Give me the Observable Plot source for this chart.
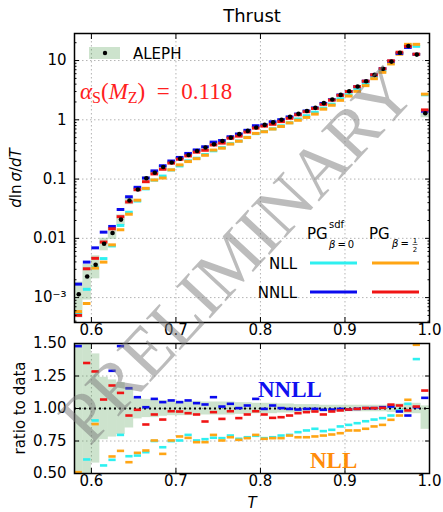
<!DOCTYPE html>
<html>
<head>
<meta charset="utf-8">
<script src="https://cdn.jsdelivr.net/npm/d3@7"></script>
<script src="https://cdn.jsdelivr.net/npm/@observablehq/plot@0.6"></script>
<style>
  html, body { margin: 0; padding: 0; background: #fff; }
  #chart { position: relative; width: 443px; height: 512px; font-family: "DejaVu Sans", sans-serif; }
  #chart svg { position: absolute; left: 0; top: 0; }
</style>
</head>
<body>
<div id="chart"></div>
<script>
// Thrust bins (lower edges), width 0.01
const binLow = [0.58, 0.59, 0.60, 0.61, 0.62, 0.63, 0.64, 0.65, 0.66, 0.67,
                0.68, 0.69, 0.70, 0.71, 0.72, 0.73, 0.74, 0.75, 0.76, 0.77,
                0.78, 0.79, 0.80, 0.81, 0.82, 0.83, 0.84, 0.85, 0.86, 0.87,
                0.88, 0.89, 0.90, 0.91, 0.92, 0.93, 0.94, 0.95, 0.96, 0.97,
                0.98, 0.99];
const binWidth = 0.01;

// ALEPH measurement, 1/sigma dsigma/dT
const aleph = [0.00114, 0.00227, 0.00358, 0.0081, 0.0123, 0.0207, 0.0435, 0.0668, 0.103, 0.128,
               0.160, 0.190, 0.221, 0.255, 0.298, 0.340, 0.387, 0.440, 0.500, 0.573,
               0.650, 0.740, 0.820, 0.905, 1.00, 1.12, 1.26, 1.41, 1.59, 1.91,
               2.20, 2.63, 3.03, 3.64, 4.47, 5.73, 7.24, 9.6, 13.5, 17.6,
               12.6, 1.29];
// relative uncertainty of the measurement (down / up)
const alephErrDown = [0.60, 0.60, 0.42, 0.24, 0.22, 0.20, 0.15, 0.08, 0.07, 0.07,
                      0.06, 0.055, 0.055, 0.055, 0.055, 0.05, 0.05, 0.05, 0.05, 0.045,
                      0.045, 0.04, 0.04, 0.04, 0.035, 0.035, 0.03, 0.03, 0.03, 0.025,
                      0.025, 0.025, 0.025, 0.025, 0.025, 0.025, 0.025, 0.03, 0.035, 0.04,
                      0.04, 0.16];
const alephErrUp = [0.60, 0.60, 0.42, 0.24, 0.22, 0.20, 0.15, 0.08, 0.07, 0.07,
                    0.06, 0.055, 0.055, 0.055, 0.055, 0.05, 0.05, 0.05, 0.05, 0.045,
                    0.045, 0.04, 0.04, 0.04, 0.035, 0.035, 0.03, 0.03, 0.03, 0.025,
                    0.025, 0.025, 0.025, 0.025, 0.025, 0.025, 0.025, 0.03, 0.035, 0.04,
                    0.04, 0.02];

// theory / data
const ratioNLLsdf = [0.47, 0.608, 0.908, 0.562, 0.605, 0.797, 0.633, 0.638, 0.664, 0.75,
                     0.702, 0.749, 0.754, 0.797, 0.754, 0.764, 0.775, 0.772, 0.792, 0.767,
                     0.779, 0.79, 0.772, 0.779, 0.792, 0.797, 0.818, 0.831, 0.844, 0.826,
                     0.836, 0.862, 0.874, 0.887, 0.902, 0.915, 0.926, 0.946, 0.985, 1.036,
                     1.38, 2.05];
const ratioNLLhalf = [0.51, 0.35, 0.88, 0.49, 0.631, 0.674, 0.587, 0.659, 0.677, 0.754,
                      0.651, 0.754, 0.785, 0.774, 0.741, 0.741, 0.797, 0.754, 0.779, 0.759,
                      0.772, 0.797, 0.767, 0.772, 0.772, 0.792, 0.779, 0.779, 0.785, 0.792,
                      0.80, 0.81, 0.831, 0.831, 0.844, 0.862, 0.874, 0.913, 0.946, 1.067,
                      1.49, 2.1];
const ratioNNLLsdf = [1.48, 1.75, 1.93, 1.57, 1.29, 1.48, 1.156, 1.087, 1.01, 1.074,
                      1.049, 1.062, 1.049, 1.062, 1.041, 1.031, 1.087, 1.015, 1.036, 1.003,
                      1.023, 1.074, 0.997, 1.023, 1.003, 0.997, 0.992, 0.997, 0.997, 0.99,
                      0.992, 0.997, 0.992, 0.997, 1.003, 1.003, 1.01, 1.015, 0.977, 0.946,
                      1.01, 1.082];
const ratioNNLLhalf = [0.44, 1.35, 1.285, 1.069, 1.177, 1.12, 0.946, 0.99, 0.877, 0.954,
                       0.915, 0.979, 0.977, 0.964, 0.954, 0.90, 0.972, 0.92, 0.979, 0.926,
                       0.954, 0.979, 0.954, 0.928, 0.933, 0.946, 0.964, 0.972, 0.977, 0.954,
                       0.977, 0.985, 0.992, 0.997, 1.003, 1.003, 1.005, 1.03, 1.023, 0.985,
                       1.015, 1.138];

const seriesNames = ["NLL PG sdf", "NLL PG half", "NNLL PG sdf", "NNLL PG half"];
const seriesColors = ["#2ef0f0", "#ffa514", "#0a0aee", "#f01414"];
const seriesRatios = [ratioNLLsdf, ratioNLLhalf, ratioNNLLsdf, ratioNNLLhalf];

const xTicks = [0.6, 0.7, 0.8, 0.9, 1.0];
const yTicksTop = [1e-3, 1e-2, 0.1, 1, 10];
const yTickLabelsTop = ["10\u207B\u00B3", "0.01", "0.1", "1", "10"];
const yTicksRatio = [0.5, 0.75, 1.0, 1.25, 1.5];
const yTickLabelsRatio = ["0.50", "0.75", "1.00", "1.25", "1.50"];

// ---------- derived tables ----------
const bins = binLow.map((t, i) => ({
  x1: t, x2: t + binWidth, xc: t + binWidth / 2,
  v: aleph[i],
  lo: aleph[i] * (1 - alephErrDown[i]), hi: aleph[i] * (1 + alephErrUp[i]),
  rlo: 1 - alephErrDown[i], rhi: 1 + alephErrUp[i]
}));
const theory = [];
seriesNames.forEach((name, s) => {
  binLow.forEach((t, i) => {
    theory.push({series: name, x1: t, x2: t + binWidth,
                 ratio: seriesRatios[s][i], y: aleph[i] * seriesRatios[s][i]});
  });
});

// minor log ticks
const minorTop = [];
for (let e = -4; e <= 1; e++) for (let m = 2; m <= 9; m++) {
  const v = m * Math.pow(10, e);
  if (v > 3.8e-4 && v < 28.6) minorTop.push(v);
}

const W = 443, H = 512;
const green = "#2e8b2e";
const gridStyle = {stroke: "#b4b4b4", strokeOpacity: 1, strokeWidth: 1, strokeDasharray: "1.5,2.5"};
const baseStyle = {background: "transparent", overflow: "visible", fontFamily: "DejaVu Sans, sans-serif", fontSize: "15px", color: "black"};
const colorScale = {domain: seriesNames, range: seriesColors};
const chart = document.getElementById("chart");

// ---------- upper panel: distribution ----------
const upper = Plot.plot({
  width: W, height: H,
  marginLeft: 74, marginRight: 14, marginTop: 33, marginBottom: H - 322,
  style: baseStyle,
  x: {domain: [0.58, 1.0]},
  y: {type: "log", domain: [3.8e-4, 28.6]},
  color: colorScale,
  marks: [
    Plot.gridX(xTicks, gridStyle),
    Plot.gridY(yTicksTop, gridStyle),
    Plot.rect(bins, {x1: "x1", x2: "x2", y1: "lo", y2: "hi", fill: green, fillOpacity: 0.24}),
    Plot.ruleY(theory, {x1: "x1", x2: "x2", y: "y", stroke: "series", strokeWidth: 3, insetLeft: 0.4, insetRight: 0.4}),
    Plot.dot(bins, {x: "xc", y: "v", r: 2.3, fill: "black", stroke: null}),
    Plot.axisX({anchor: "bottom", ticks: xTicks, tickSize: -5, tickPadding: 7, tickFormat: d => d.toFixed(1), label: null}),
    Plot.axisX({anchor: "top", ticks: xTicks, tickSize: -5, tickFormat: () => "", label: null}),
    Plot.axisY({anchor: "left", ticks: yTicksTop, tickSize: -5, tickPadding: 13, tickFormat: d => yTickLabelsTop[yTicksTop.indexOf(d)], label: null}),
    Plot.axisY({anchor: "left", ticks: minorTop, tickSize: -2.5, tickFormat: () => "", label: null}),
    Plot.axisY({anchor: "right", ticks: yTicksTop, tickSize: -5, tickFormat: () => "", label: null}),
    Plot.axisY({anchor: "right", ticks: minorTop, tickSize: -2.5, tickFormat: () => "", label: null}),
    Plot.frame({stroke: "black", strokeWidth: 1.5})
  ]
});
chart.appendChild(upper);

// ---------- lower panel: ratio to data ----------
const lower = Plot.plot({
  width: W, height: H,
  marginLeft: 74, marginRight: 14, marginTop: 343, marginBottom: H - 473,
  style: baseStyle,
  x: {domain: [0.58, 1.0]},
  y: {domain: [0.5, 1.5]},
  color: colorScale,
  marks: [
    Plot.gridX(xTicks, gridStyle),
    Plot.gridY(yTicksRatio, gridStyle),
    Plot.rect(bins, {x1: "x1", x2: "x2", y1: "rlo", y2: "rhi", fill: green, fillOpacity: 0.24, clip: true}),
    Plot.ruleY([1], {stroke: "black", strokeWidth: 2, strokeDasharray: "2,3"}),
    Plot.ruleY(theory, {x1: "x1", x2: "x2", y: "ratio", stroke: "series", strokeWidth: 2.6, insetLeft: 0.6, insetRight: 0.6, clip: true}),
    Plot.axisX({anchor: "bottom", ticks: xTicks, tickSize: -5, tickPadding: 7, tickFormat: d => d.toFixed(1), label: null}),
    Plot.axisX({anchor: "top", ticks: xTicks, tickSize: -5, tickFormat: () => "", label: null}),
    Plot.axisY({anchor: "left", ticks: yTicksRatio, tickSize: -5, tickPadding: 13, tickFormat: d => yTickLabelsRatio[yTicksRatio.indexOf(d)], label: null}),
    Plot.axisY({anchor: "right", ticks: yTicksRatio, tickSize: -5, tickFormat: () => "", label: null}),
    Plot.frame({stroke: "black", strokeWidth: 1.5})
  ]
});
chart.appendChild(lower);

// ---------- titles, legends, annotations ----------
const svg = d3.select(chart).append("svg")
  .attr("width", W).attr("height", H)
  .style("font-family", "DejaVu Sans, sans-serif")
  .style("pointer-events", "none");

svg.append("text").attr("x", 252).attr("y", 22).attr("text-anchor", "middle")
  .attr("font-size", 18).text("Thrust");

// ALEPH legend entry
svg.append("rect").attr("x", 89).attr("y", 47).attr("width", 31).attr("height", 12)
  .attr("fill", green).attr("fill-opacity", 0.24);
svg.append("circle").attr("cx", 105).attr("cy", 53).attr("r", 2.2).attr("fill", "black");
svg.append("text").attr("x", 133).attr("y", 58.5).attr("font-size", 15).text("ALEPH");

// coupling
const alpha = svg.append("text").attr("x", 80).attr("y", 99)
  .attr("font-family", "Liberation Serif, serif").attr("font-size", 23).attr("fill", "#ff2020");
alpha.append("tspan").attr("font-style", "italic").text("α");
alpha.append("tspan").attr("font-size", 16).attr("dy", 4).text("S");
alpha.append("tspan").attr("dy", -4).text("(");
alpha.append("tspan").attr("font-style", "italic").text("M");
alpha.append("tspan").attr("font-size", 16).attr("dy", 4).text("Z");
alpha.append("tspan").attr("dy", -4).text(")\u2002=\u20020.118");

// series legend
svg.append("text").attr("x", 307).attr("y", 238.5).attr("font-size", 15).text("PG");
svg.append("text").attr("x", 329).attr("y", 228).attr("font-size", 10).text("sdf");
const b0 = svg.append("text").attr("x", 329).attr("y", 248).attr("font-size", 10);
b0.append("tspan").attr("font-style", "italic").text("β");
b0.append("tspan").text("\u2009=\u20090");
svg.append("text").attr("x", 369).attr("y", 238.5).attr("font-size", 15).text("PG");
const b1 = svg.append("text").attr("x", 392).attr("y", 247).attr("font-size", 10);
b1.append("tspan").attr("font-style", "italic").text("β");
b1.append("tspan").text("\u2009=");
svg.append("text").attr("x", 415).attr("y", 243).attr("font-size", 7).attr("text-anchor", "middle").text("1");
svg.append("line").attr("x1", 412.5).attr("x2", 417.5).attr("y1", 244.5).attr("y2", 244.5).attr("stroke", "black").attr("stroke-width", 0.6);
svg.append("text").attr("x", 415).attr("y", 251.5).attr("font-size", 7).attr("text-anchor", "middle").text("2");

svg.append("text").attr("x", 297).attr("y", 268.5).attr("text-anchor", "end").attr("font-size", 15).text("NLL");
svg.append("text").attr("x", 297).attr("y", 297.5).attr("text-anchor", "end").attr("font-size", 15).text("NNLL");
const legendLines = [
  {x: 310, y: 263, c: seriesColors[0]}, {x: 372, y: 263, c: seriesColors[1]},
  {x: 310, y: 292, c: seriesColors[2]}, {x: 372, y: 292, c: seriesColors[3]}
];
legendLines.forEach(l => svg.append("line").attr("x1", l.x).attr("x2", l.x + 47)
  .attr("y1", l.y).attr("y2", l.y).attr("stroke", l.c).attr("stroke-width", 3));

// order labels in the ratio panel
svg.append("text").attr("x", 258).attr("y", 397).attr("font-family", "Liberation Serif, serif")
  .attr("font-weight", "bold").attr("font-size", 23).attr("fill", "#1010f0").text("NNLL");
svg.append("text").attr("x", 310).attr("y", 468).attr("font-family", "Liberation Serif, serif")
  .attr("font-weight", "bold").attr("font-size", 23).attr("fill", "#ff8c0a").text("NLL");

// axis titles
const yl = svg.append("text").attr("transform", "translate(21,178) rotate(-90)")
  .attr("text-anchor", "middle").attr("font-size", 15);
yl.append("tspan").attr("font-style", "italic").text("d");
yl.append("tspan").text("ln\u2009");
yl.append("tspan").attr("font-style", "italic").text("σ");
yl.append("tspan").text("/");
yl.append("tspan").attr("font-style", "italic").text("dT");
svg.append("text").attr("transform", "translate(25,408) rotate(-90)")
  .attr("text-anchor", "middle").attr("font-size", 15).text("ratio to data");
svg.append("text").attr("x", 252).attr("y", 508).attr("text-anchor", "middle")
  .attr("font-size", 15).attr("font-style", "italic").text("T");

// watermark
svg.append("text").attr("transform", "translate(242,260) rotate(-47)")
  .attr("text-anchor", "middle").attr("dominant-baseline", "middle")
  .attr("font-family", "Liberation Serif, serif").attr("font-size", 71)
  .attr("fill", "#7a7a7a").attr("fill-opacity", 0.5).text("PRELIMINARY");
</script>
</body>
</html>
